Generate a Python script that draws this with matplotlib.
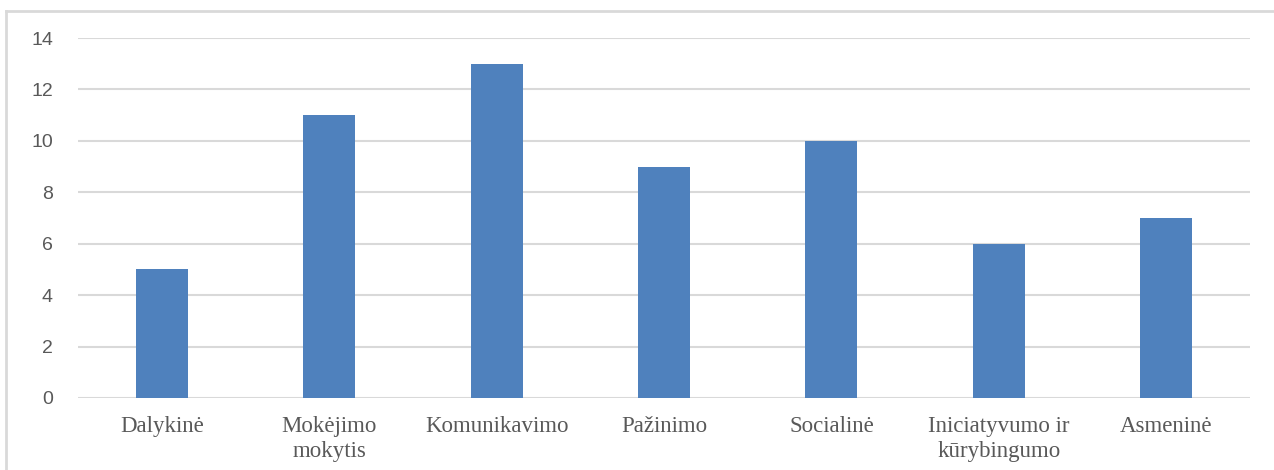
import matplotlib.pyplot as plt
from matplotlib.lines import Line2D

categories = ['Dalykinė', 'Mokėjimo\nmokytis', 'Komunikavimo', 'Pažinimo',
              'Socialinė', 'Iniciatyvumo ir\nkūrybingumo', 'Asmeninė']
values = [5, 11, 13, 9, 10, 6, 7]
yticks = [0, 2, 4, 6, 8, 10, 12, 14]

fig = plt.figure(figsize=(12.74, 4.7), dpi=100)
ax = fig.add_axes([78 / 1274, 1 - 398 / 470, 1172 / 1274, 360 / 470])

x = list(range(len(categories)))
ax.bar(x, values, width=0.31, color='#4F81BD', zorder=3)

ax.set_xlim(-0.5, len(categories) - 0.5)
ax.set_ylim(0, 14)
ax.set_yticks(yticks)
ax.set_yticklabels([str(t) for t in yticks], family='Liberation Sans',
                   fontsize=14, color='#595959')
ax.set_xticks(x)
ax.set_xticklabels(categories, family='Liberation Serif', fontsize=16.5,
                   color='#595959', linespacing=1.25)
ax.tick_params(axis='both', length=0)
ax.tick_params(axis='y', pad=18)
ax.tick_params(axis='x', pad=13)

ax.grid(axis='y', color='#D9D9D9', linewidth=1.5, zorder=0)
for s in ax.spines.values():
    s.set_visible(False)

# outer frame (top and left edges visible)
fig.add_artist(Line2D([6 / 1274, 1], [1 - 11 / 470, 1 - 11 / 470],
                      transform=fig.transFigure, color='#D9D9D9', linewidth=2))
fig.add_artist(Line2D([6 / 1274, 6 / 1274], [0, 1 - 11 / 470],
                      transform=fig.transFigure, color='#D9D9D9', linewidth=2))

fig.savefig('out.png', dpi=100)
